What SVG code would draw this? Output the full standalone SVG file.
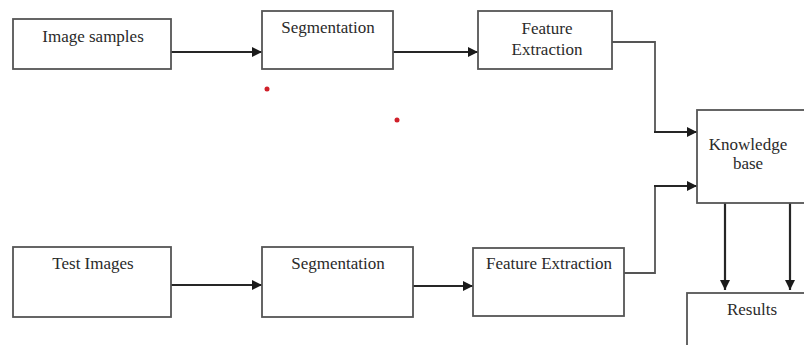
<svg xmlns="http://www.w3.org/2000/svg" width="804" height="345" viewBox="0 0 804 345">
  <style>
    .box { fill: #ffffff; stroke: #555555; stroke-width: 1.8; }
    .lbl { font-family: "Liberation Serif", "Times New Roman", serif; font-size: 17px; fill: #2a2a2a; text-anchor: middle; }
    .flow { fill: none; stroke: #262626; stroke-width: 2.2; }
    .link { fill: none; stroke: #555555; stroke-width: 1.8; }
  </style>
  <defs>
    <marker id="head" viewBox="0 0 10 10" refX="10" refY="5" markerWidth="10" markerHeight="10" markerUnits="userSpaceOnUse" orient="auto">
      <path d="M0,0 L10,5 L0,10 z" fill="#1a1a1a"/>
    </marker>
  </defs>
  <rect width="804" height="345" fill="#ffffff"/>

  <!-- connectors -->
  <g id="connectors">
    <line class="flow" x1="171" y1="52" x2="262" y2="52" marker-end="url(#head)"/>
    <line class="flow" x1="393" y1="52" x2="478" y2="52" marker-end="url(#head)"/>
    <polyline class="link" points="612,42 655,42 655,132" />
    <line class="flow" x1="654" y1="132" x2="697" y2="132" marker-end="url(#head)"/>
    <line class="flow" x1="171" y1="285" x2="262" y2="285" marker-end="url(#head)"/>
    <line class="flow" x1="413" y1="286" x2="473" y2="286" marker-end="url(#head)"/>
    <polyline class="link" points="624,273 655,273 655,186" />
    <line class="flow" x1="654" y1="186" x2="697" y2="186" marker-end="url(#head)"/>
    <line class="flow" x1="725" y1="203" x2="725" y2="290" marker-end="url(#head)"/>
    <line class="flow" x1="790" y1="203" x2="790" y2="290" marker-end="url(#head)"/>
  </g>

  <g id="image-samples">
    <rect class="box" x="13" y="19" width="158" height="50"/>
    <text class="lbl" x="93" y="42">Image samples</text>
  </g>
  <g id="segmentation-top">
    <rect class="box" x="262" y="11" width="131" height="58"/>
    <text class="lbl" x="328" y="33">Segmentation</text>
  </g>
  <g id="feature-extraction-top">
    <rect class="box" x="478" y="11" width="134" height="58"/>
    <text class="lbl" x="547" y="34">Feature</text>
    <text class="lbl" x="547" y="55">Extraction</text>
  </g>
  <g id="knowledge-base">
    <rect class="box" x="697" y="110" width="120" height="93"/>
    <text class="lbl" x="748" y="150">Knowledge</text>
    <text class="lbl" x="748" y="169">base</text>
  </g>
  <g id="test-images">
    <rect class="box" x="13" y="247" width="158" height="70"/>
    <text class="lbl" x="93" y="269">Test Images</text>
  </g>
  <g id="segmentation-bottom">
    <rect class="box" x="262" y="247" width="151" height="70"/>
    <text class="lbl" x="338" y="269">Segmentation</text>
  </g>
  <g id="feature-extraction-bottom">
    <rect class="box" x="473" y="248" width="151" height="68"/>
    <text class="lbl" x="549" y="269">Feature Extraction</text>
  </g>
  <g id="results">
    <rect class="box" x="687" y="293" width="130" height="70"/>
    <text class="lbl" x="752" y="315">Results</text>
  </g>

  <!-- stray red dots -->
  <circle cx="267" cy="89" r="2.5" fill="#d0202a"/>
  <circle cx="397" cy="120" r="2.5" fill="#d0202a"/>
</svg>
